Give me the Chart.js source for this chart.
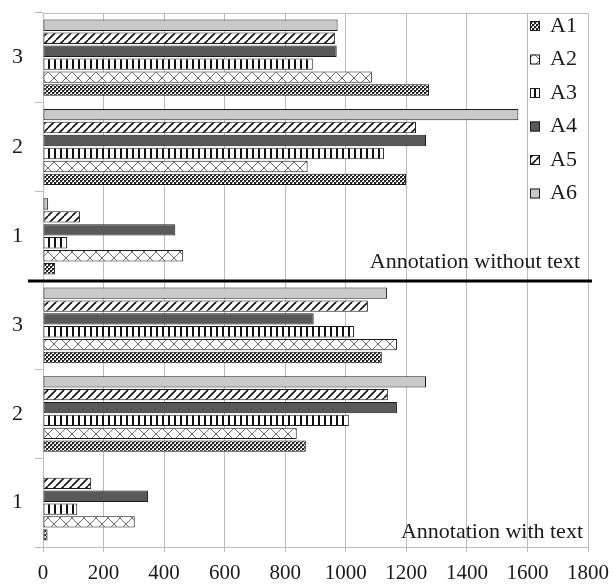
<!DOCTYPE html>
<html>
<head>
<meta charset="utf-8">
<script src="https://cdn.jsdelivr.net/npm/chart.js@4.4.0/dist/chart.umd.min.js"></script>
<style>
  body { margin: 0; background: #fff; }
  #wrap { position: relative; width: 613px; height: 586px; }
  #wrap canvas { position: absolute; left: 0; }
</style>
</head>
<body>
<div id="wrap">
  <canvas id="chartTop" width="613" height="281" style="top:0"></canvas>
  <canvas id="chartBottom" width="613" height="308" style="top:278px"></canvas>
</div>
<script>
"use strict";

// categories listed top to bottom
const categories = ['3', '2', '1'];
const seriesNames = ['A1', 'A2', 'A3', 'A4', 'A5', 'A6'];
const xTicks = [0, 200, 400, 600, 800, 1000, 1200, 1400, 1600, 1800];

// Annotation without text (values for 3, 2, 1)
const topA1 = [1275, 1199, 40];
const topA2 = [1086, 874, 463];
const topA3 = [891, 1126, 80];
const topA4 = [970, 1265, 437];
const topA5 = [964, 1232, 122];
const topA6 = [973, 1570, 17];

// Annotation with text (values for 3, 2, 1)
const botA1 = [1119, 868, 15];
const botA2 = [1169, 838, 303];
const botA3 = [1027, 1010, 113];
const botA4 = [894, 1169, 347];
const botA5 = [1073, 1139, 159];
const botA6 = [1136, 1265, 0];

const FONT = "'Liberation Serif', 'Times New Roman', serif";
const INK = '#1a1a1a';
const GRID = '#bcbcbc';

function tile(w, h, draw) {
    const c = document.createElement('canvas');
    c.width = w;
    c.height = h;
    const g = c.getContext('2d');
    draw(g);
    return g.createPattern(c, 'repeat');
}

const fills = [
    // A1 small check
    tile(4, 4, g => {
        g.fillStyle = '#fff'; g.fillRect(0, 0, 4, 4);
        g.fillStyle = '#222'; g.fillRect(0, 0, 2, 2); g.fillRect(2, 2, 2, 2);
        g.fillStyle = '#777'; g.fillRect(2, 0, 1, 1); g.fillRect(0, 2, 1, 1);
    }),
    // A2 diagonal lattice
    tile(12, 12, g => {
        g.fillStyle = '#fff'; g.fillRect(0, 0, 12, 12);
        g.strokeStyle = '#6a6a6a'; g.lineWidth = 1;
        g.beginPath();
        g.moveTo(0, 0); g.lineTo(12, 12);
        g.moveTo(12, 0); g.lineTo(0, 12);
        g.stroke();
    }),
    // A3 vertical stripes
    tile(6, 4, g => {
        g.fillStyle = '#fff'; g.fillRect(0, 0, 6, 4);
        g.fillStyle = '#111'; g.fillRect(0, 0, 2, 4);
    }),
    // A4 dark grey
    '#595959',
    // A5 forward diagonal
    tile(8, 8, g => {
        g.fillStyle = '#fff'; g.fillRect(0, 0, 8, 8);
        g.strokeStyle = '#111'; g.lineWidth = 1.6;
        g.beginPath();
        for (let o = -8; o <= 8; o += 8) {
            g.moveTo(o, 8); g.lineTo(o + 8, 0);
        }
        g.stroke();
    }),
    // A6 light grey
    '#c9c9c9'
];

function makeDatasets(values) {
    // A6 first so it sits on top inside each group
    const sets = [];
    for (let i = values.length - 1; i >= 0; i--) {
        sets.push({
            label: seriesNames[i],
            data: values[i],
            backgroundColor: fills[i],
            borderColor: INK,
            borderWidth: 1,
            borderSkipped: false,
            categoryPercentage: 0.87,
            barPercentage: 0.88
        });
    }
    return sets;
}

function panelText(text, x, y) {
    return {
        id: 'panelText',
        afterDraw(chart) {
            const ctx = chart.ctx;
            ctx.save();
            ctx.font = '22px ' + FONT;
            ctx.fillStyle = INK;
            ctx.textAlign = 'right';
            ctx.textBaseline = 'middle';
            ctx.fillText(text, x, y);
            ctx.restore();
        }
    };
}

const topBorder = {
    id: 'topBorder',
    afterDraw(chart) {
        const a = chart.chartArea, ctx = chart.ctx;
        ctx.save();
        ctx.strokeStyle = GRID;
        ctx.lineWidth = 1;
        ctx.beginPath();
        ctx.moveTo(a.left, a.top + 0.5);
        ctx.lineTo(a.right, a.top + 0.5);
        ctx.stroke();
        ctx.restore();
    }
};

const legendBox = {
    id: 'legendBox',
    afterDraw(chart) {
        const ctx = chart.ctx;
        ctx.save();
        ctx.font = '22px ' + FONT;
        ctx.textBaseline = 'middle';
        ctx.textAlign = 'left';
        seriesNames.forEach((name, i) => {
            const y = 26 + i * 33.5;
            ctx.fillStyle = fills[i];
            ctx.fillRect(530, y - 5, 10, 10);
            ctx.strokeStyle = INK;
            ctx.lineWidth = 1;
            ctx.strokeRect(530.5, y - 4.5, 9, 9);
            ctx.fillStyle = INK;
            ctx.fillText(name, 550, y);
        });
        ctx.restore();
    }
};

const dividerLine = {
    id: 'dividerLine',
    afterDraw(chart) {
        const ctx = chart.ctx;
        ctx.save();
        ctx.strokeStyle = '#000';
        ctx.lineWidth = 3;
        ctx.beginPath();
        ctx.moveTo(28, chart.chartArea.top);
        ctx.lineTo(592, chart.chartArea.top);
        ctx.stroke();
        ctx.restore();
    }
};

function noPadding(s) {
    s.paddingTop = 0;
    s.paddingBottom = 0;
    s.paddingLeft = 0;
    s.paddingRight = 0;
}

function makeOptions(showTicks, xHeight, padTop) {
    return {
        indexAxis: 'y',
        responsive: false,
        animation: false,
        devicePixelRatio: 1,
        layout: { padding: { top: padTop, right: 25, left: 0, bottom: 0 } },
        plugins: { legend: { display: false }, tooltip: { enabled: false } },
        scales: {
            x: {
                min: 0,
                max: 1800,
                afterBuildTicks: s => { s.ticks = xTicks.map(v => ({ value: v })); },
                afterFit: s => { s.height = xHeight; noPadding(s); },
                grid: { color: GRID, lineWidth: 1, drawTicks: showTicks, tickLength: 5 },
                border: { display: showTicks, color: GRID },
                ticks: {
                    display: showTicks, color: INK, padding: 9,
                    font: { family: FONT, size: 21 },
                    callback: v => String(v)
                }
            },
            y: {
                afterFit: s => { s.width = 43; noPadding(s); },
                grid: { color: GRID, drawOnChartArea: false, tickLength: 8, offset: true },
                border: { color: GRID },
                ticks: { color: INK, padding: 12, font: { family: FONT, size: 22 } }
            }
        }
    };
}

const topValues = [topA1, topA2, topA3, topA4, topA5, topA6];
const botValues = [botA1, botA2, botA3, botA4, botA5, botA6];

new Chart(document.getElementById('chartTop'), {
    type: 'bar',
    data: { labels: categories, datasets: makeDatasets(topValues) },
    options: makeOptions(false, 0, 13),
    plugins: [topBorder, legendBox, panelText('Annotation without text', 580, 262)]
});

new Chart(document.getElementById('chartBottom'), {
    type: 'bar',
    data: { labels: categories, datasets: makeDatasets(botValues) },
    options: makeOptions(true, 39, 3),
    plugins: [dividerLine, panelText('Annotation with text', 583, 254)]
});
</script>
</body>
</html>
